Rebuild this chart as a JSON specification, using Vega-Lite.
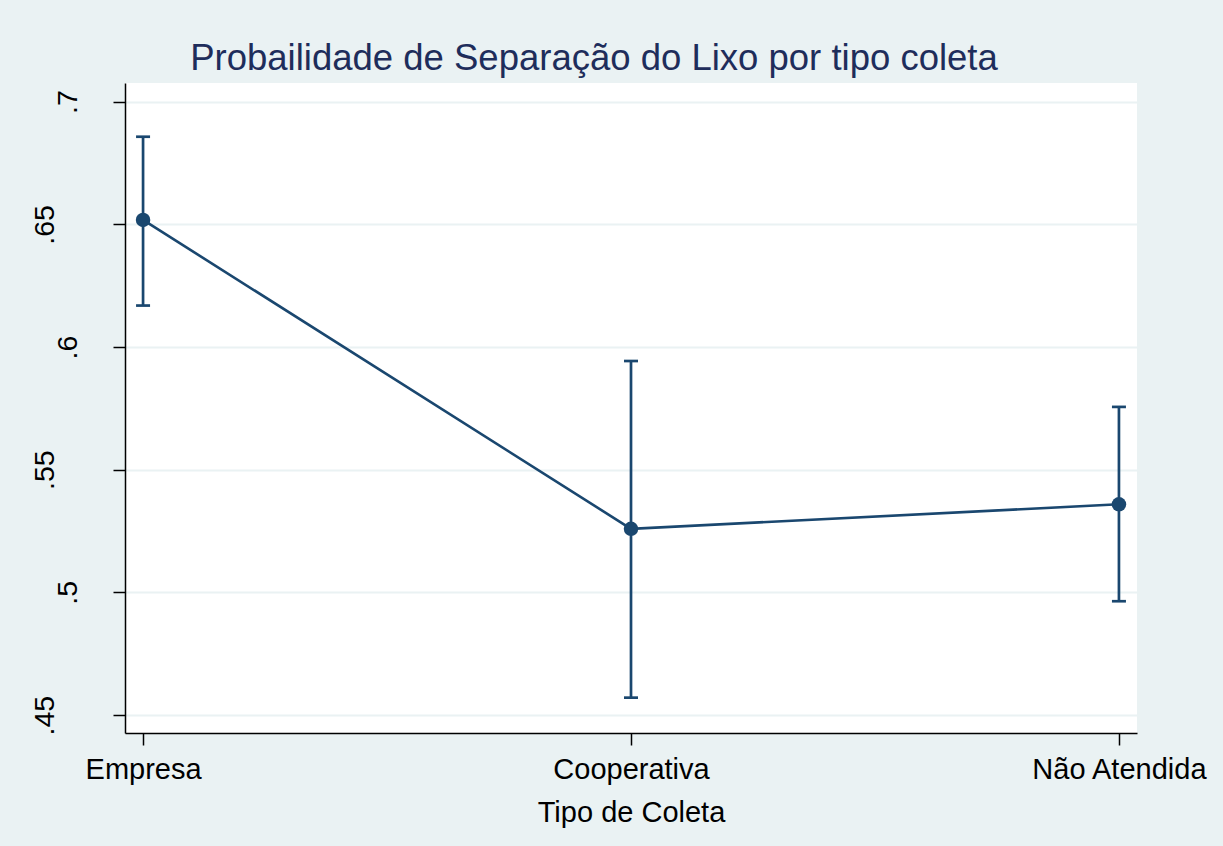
{
  "$schema": "https://vega.github.io/schema/vega-lite/v6.json",
  "width": 1012,
  "height": 650,
  "autosize": {"type": "none"},
  "padding": {"left": 125, "top": 83, "right": 86, "bottom": 113},
  "background": "#eaf2f3",
  "title": {
    "text": "Probailidade de Separação do Lixo por tipo coleta",
    "font": "Liberation Sans",
    "fontSize": 36.5,
    "fontWeight": "normal",
    "color": "#1e2d5b",
    "anchor": "middle",
    "baseline": "alphabetic",
    "dx": -37,
    "offset": -23
  },
  "config": {
    "view": {"fill": "white", "stroke": null},
    "font": "Liberation Sans"
  },
  "data": {
    "values": [
      {"tipo": "Empresa", "p": 0.6518, "lo": 0.6169, "hi": 0.6857},
      {"tipo": "Cooperativa", "p": 0.5259, "lo": 0.4571, "hi": 0.5943},
      {"tipo": "Não Atendida", "p": 0.5359, "lo": 0.4964, "hi": 0.5756}
    ]
  },
  "encoding": {
    "x": {
      "field": "tipo",
      "type": "nominal",
      "sort": ["Empresa", "Cooperativa", "Não Atendida"],
      "scale": {"type": "point", "padding": 0.037},
      "axis": {
        "title": "Tipo de Coleta",
        "titleFont": "Liberation Sans",
        "titleFontSize": 29,
        "titleFontWeight": "normal",
        "titleColor": "black",
        "titleBaseline": "alphabetic",
        "titleY": 88,
        "labelFont": "Liberation Sans",
        "labelFontSize": 29,
        "labelColor": "black",
        "labelAngle": 0,
        "labelAlign": "center",
        "labelBaseline": "alphabetic",
        "labelPadding": 33,
        "labelFlush": false,
        "labelOverlap": false,
        "labelBound": false,
        "tickSize": 12,
        "tickColor": "black",
        "tickWidth": 1.5,
        "domainColor": "black",
        "domainWidth": 1.5,
        "grid": false
      }
    }
  },
  "layer": [
    {
      "mark": {"type": "rule", "color": "#1a476f", "strokeWidth": 2.7, "opacity": 1},
      "encoding": {
        "y": {"field": "lo", "type": "quantitative"},
        "y2": {"field": "hi"}
      }
    },
    {
      "mark": {"type": "tick", "color": "#1a476f", "size": 14, "thickness": 2.7, "orient": "horizontal", "opacity": 1},
      "encoding": {"y": {"field": "lo", "type": "quantitative"}}
    },
    {
      "mark": {"type": "tick", "color": "#1a476f", "size": 14, "thickness": 2.7, "orient": "horizontal", "opacity": 1},
      "encoding": {"y": {"field": "hi", "type": "quantitative"}}
    },
    {
      "mark": {"type": "line", "color": "#1a476f", "strokeWidth": 2.6},
      "encoding": {
        "y": {"field": "p", "type": "quantitative"}
      }
    },
    {
      "mark": {"type": "point", "filled": true, "shape": "circle", "color": "#1a476f", "size": 210, "opacity": 1},
      "encoding": {
        "y": {
          "field": "p",
          "type": "quantitative",
          "scale": {"domain": [0.4427, 0.7076], "nice": false, "zero": false},
          "axis": {
            "title": null,
            "values": [0.45, 0.5, 0.55, 0.6, 0.65, 0.7],
            "labelExpr": "substring(format(datum.value, '.2~f'), 1)",
            "labelFont": "Liberation Sans",
            "labelFontSize": 28.5,
            "labelColor": "black",
            "labelAngle": 270,
            "labelAlign": "center",
            "labelBaseline": "alphabetic",
            "labelPadding": {"condition": {"test": "round(datum.value * 100) % 10 == 0", "value": 37}, "value": 60},
            "labelOverlap": false,
            "labelBound": false,
            "labelFlush": false,
            "tickSize": 12,
            "tickColor": "black",
            "tickWidth": 1.5,
            "domainColor": "black",
            "domainWidth": 1.5,
            "grid": true,
            "gridColor": "#eaf2f3",
            "gridWidth": 2
          }
        }
      }
    }
  ]
}
